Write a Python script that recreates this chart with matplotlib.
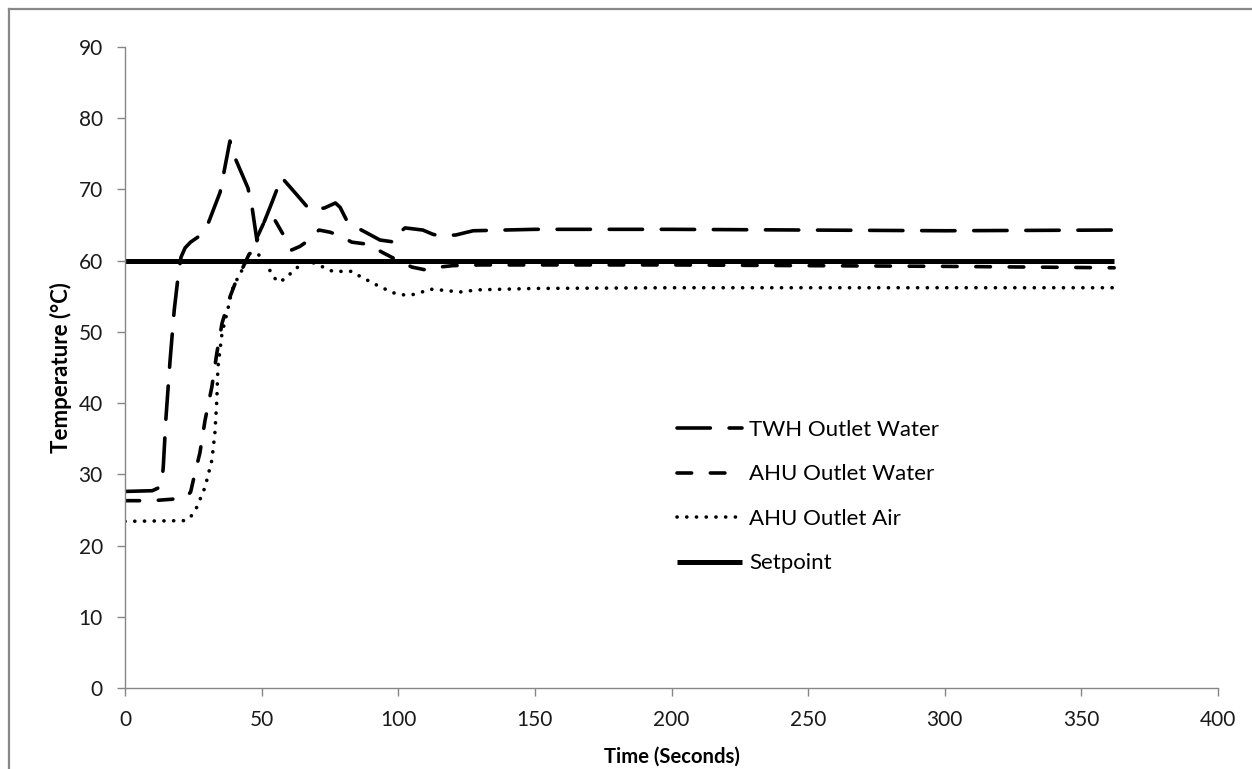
import matplotlib
matplotlib.use("Agg")
import matplotlib.pyplot as plt
from matplotlib.lines import Line2D

plt.rcParams['font.family'] = ['Lato', 'DejaVu Sans']
plt.rcParams['lines.scale_dashes'] = False

# ---- data ----
twh_t = [0, 10, 12.8, 13.5, 14, 15, 16.5, 18, 19.5, 20.5, 22, 24, 27, 30.5, 34.8, 36.5, 38.4,
         40.3, 45, 46.5, 48.3, 51, 53.8, 57.3, 63, 67.7, 73, 77, 78.7, 81.6, 88, 93.3, 98.8,
         100.6, 102.5, 109, 112.7, 115, 121, 127.4, 150, 200, 250, 300, 362]
twh_v = [27.6, 27.7, 28.2, 29.0, 31.0, 38.0, 46.0, 53.0, 58.0, 60.5, 61.8, 62.6, 63.4, 65.3, 69.6, 73.0, 76.8,
         74.4, 70.2, 67.5, 62.8, 65.5, 68.2, 71.7, 69.2, 67.1, 67.4, 68.1, 67.5, 65.3, 64.0, 62.9, 62.6,
         64.0, 64.6, 64.3, 63.7, 63.5, 63.6, 64.2, 64.4, 64.4, 64.3, 64.2, 64.3]

ahu_w_t = [0, 10, 17, 22, 24, 25.5, 27.4, 29.3, 31.8, 33.6, 35.5, 38.4, 41, 43.2, 48, 52, 54,
           55, 58, 61, 64, 67, 71, 75, 78, 83, 89, 94, 100, 105, 110, 115, 120, 130,
           200, 300, 362]
ahu_w_v = [26.3, 26.3, 26.5, 26.7, 27.5, 30.0, 33.0, 37.6, 42.3, 47.0, 51.2, 54.9, 57.5, 59.1, 63.0, 66.3, 66.0,
           65.6, 63.6, 61.5, 62.0, 62.8, 64.3, 64.0, 63.6, 62.6, 62.3, 61.2, 60.0, 59.1, 58.7, 59.1, 59.3, 59.4,
           59.4, 59.2, 59.0]

ahu_a_t = [0, 22, 24, 26.3, 29.3, 31.8, 32.9, 33.6, 34, 35.5, 37.3, 39.2, 41.4, 43.9, 45.7, 48,
           51.2, 53.8, 56, 59, 61, 66.5, 72.5, 76, 83, 86, 92, 98, 102, 105, 108.7, 111.6, 115,
           122.6, 129, 150, 200, 250, 300, 362]
ahu_a_v = [23.4, 23.5, 24.0, 25.4, 28.2, 32.0, 35.8, 40.4, 45.0, 49.8, 52.6, 55.9, 57.7, 59.4, 61.0, 61.1,
           60.1, 58.0, 57.0, 57.5, 58.4, 60.1, 59.1, 58.5, 58.5, 57.8, 56.6, 55.5, 55.2, 55.2, 55.6, 56.0, 55.9,
           55.6, 55.9, 56.1, 56.2, 56.2, 56.2, 56.2]

setpoint_t = [0, 362]
setpoint_v = [60, 60]

x_ticks = [0, 50, 100, 150, 200, 250, 300, 350, 400]
y_ticks = [0, 10, 20, 30, 40, 50, 60, 70, 80, 90]

# ---- figure ----
W, H = 1252, 769
fig = plt.figure(figsize=(W / 100, H / 100), dpi=100)
ax = fig.add_axes([125 / W, 1 - 688 / H, (1218 - 125) / W, (688 - 47) / H])

lw = 2.6
ax.plot(twh_t, twh_v, color='black', lw=lw, dashes=(24, 13.5), dash_capstyle='round',
        solid_capstyle='round', label='TWH Outlet Water')
ax.plot(ahu_w_t, ahu_w_v, color='black', lw=lw, dashes=(10.5, 13.5), dash_capstyle='round',
        label='AHU Outlet Water')
ax.plot(ahu_a_t, ahu_a_v, color='black', lw=lw, dashes=(0.1, 6.9), dash_capstyle='round',
        label='AHU Outlet Air')
ax.plot(setpoint_t, setpoint_v, color='black', lw=3.6, solid_capstyle='butt', label='Setpoint')

ax.set_xlim(0, 400)
ax.set_ylim(0, 90)
ax.set_xticks(x_ticks)
ax.set_yticks(y_ticks)

axis_col = '#868686'
for s in ['top', 'right']:
    ax.spines[s].set_visible(False)
for s in ['left', 'bottom']:
    ax.spines[s].set_color(axis_col)
    ax.spines[s].set_linewidth(1.0)
ax.tick_params(axis='both', direction='out', length=6, width=1.0, color=axis_col,
               labelsize=15, labelcolor='#1a1a1a')
ax.tick_params(axis='y', pad=10)
ax.tick_params(axis='x', pad=10)

ax.set_xlabel('Time (Seconds)', fontsize=14.6, fontweight='bold', labelpad=12)
ax.set_ylabel('Temperature (°C)', fontsize=16, fontweight='bold', labelpad=5)

leg = ax.legend(loc='upper left', bbox_to_anchor=(0.497, 0.432), frameon=False,
                fontsize=16, handlelength=2.9, handletextpad=0.33, labelspacing=1.1,
                borderaxespad=0)

# outer chart border (cropped at right and bottom)
fig.add_artist(Line2D([8.5 / W, 8.5 / W], [0, 1 - 8.5 / H], transform=fig.transFigure,
                      color='#888888', lw=1.6))
fig.add_artist(Line2D([8.5 / W, 1], [1 - 8.5 / H, 1 - 8.5 / H], transform=fig.transFigure,
                      color='#888888', lw=1.6))

fig.savefig('out.png', dpi=100)
